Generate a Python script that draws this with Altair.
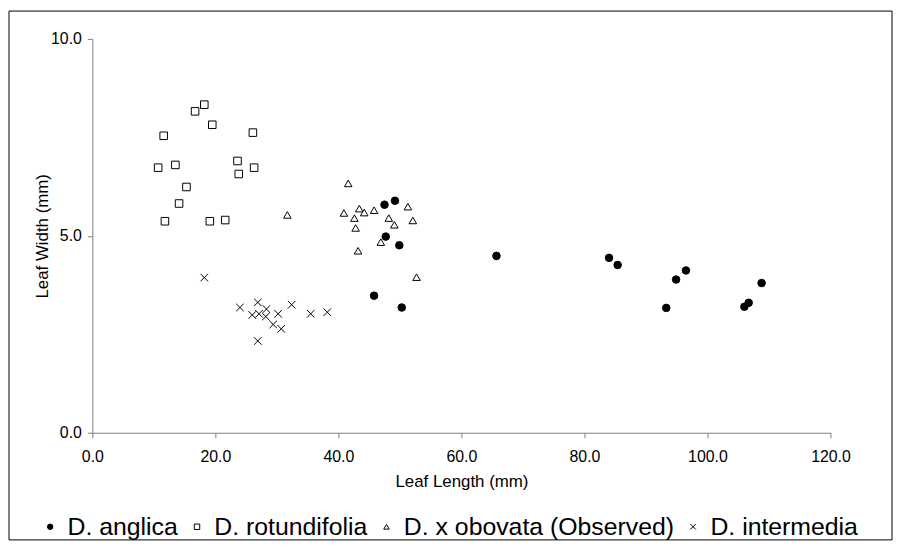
import altair as alt
import pandas as pd

series_names = ["D. anglica", "D. rotundifolia", "D. x obovata (Observed)", "D. intermedia"]

anglica_x = [47.5, 49.2, 47.7, 49.9, 65.7, 45.8, 50.3, 84.0, 85.4, 96.5, 94.9, 93.3, 108.8, 106.7, 106.0]
anglica_y = [5.79, 5.89, 4.98, 4.76, 4.49, 3.48, 3.18, 4.44, 4.26, 4.12, 3.89, 3.17, 3.80, 3.30, 3.20]

rotundifolia_x = [18.2, 16.7, 19.5, 11.6, 26.1, 23.6, 26.3, 23.8, 10.7, 13.5, 15.3, 14.1, 11.8, 19.1, 21.6]
rotundifolia_y = [8.33, 8.16, 7.82, 7.54, 7.62, 6.90, 6.73, 6.57, 6.73, 6.80, 6.24, 5.82, 5.37, 5.37, 5.40]

obovata_x = [41.6, 31.7, 40.9, 43.4, 42.6, 44.2, 45.8, 51.3, 48.2, 49.1, 52.1, 42.8, 46.9, 43.2, 52.7]
obovata_y = [6.33, 5.53, 5.58, 5.69, 5.45, 5.59, 5.65, 5.74, 5.45, 5.28, 5.39, 5.20, 4.84, 4.62, 3.95]

intermedia_x = [18.2, 24.0, 26.9, 26.0, 27.1, 28.2, 28.3, 30.2, 29.4, 30.7, 32.4, 35.5, 38.2, 26.9]
intermedia_y = [3.94, 3.18, 3.31, 2.99, 3.02, 2.95, 3.14, 3.02, 2.75, 2.64, 3.25, 3.02, 3.06, 2.33]

x_ticks = [0, 20, 40, 60, 80, 100, 120]
y_ticks = [0, 5, 10]

rows = []
for name, xs, ys in [
    (series_names[0], anglica_x, anglica_y),
    (series_names[1], rotundifolia_x, rotundifolia_y),
    (series_names[2], obovata_x, obovata_y),
    (series_names[3], intermedia_x, intermedia_y),
]:
    for x, y in zip(xs, ys):
        rows.append({"length": x, "width": y, "species": name})
df = pd.DataFrame(rows)

FONT = "Liberation Sans"
W, H = 744, 397

shape_range = ["circle", "square", "triangle-up", "M-1,-1L1,1M-1,1L1,-1"]
fill_range = ["black", "white", "white", "white"]
stroke_range = ["black", "black", "black", "black"]

legend_opts = dict(
    title=None, orient="none", legendX=-55, legendY=479,
    direction="horizontal", labelLimit=0, symbolSize=30,
    symbolStrokeWidth=1,
)

points = alt.Chart(df).mark_point(
    filled=False, strokeWidth=1, size=58, opacity=1
).encode(
    x=alt.X(
        "length:Q",
        scale=alt.Scale(domain=[0, 120], nice=False, zero=False),
        axis=alt.Axis(
            values=x_ticks, format=".1f", title="Leaf Length (mm)",
            titleY=49, titleBaseline="middle", labelPadding=11,
            labelFlush=False,
        ),
    ),
    y=alt.Y(
        "width:Q",
        scale=alt.Scale(domain=[0, 10], nice=False, zero=False),
        axis=alt.Axis(
            values=y_ticks, format=".1f", title="Leaf Width (mm)",
            titleX=-50, titleY=H / 2, titleAngle=-90, titleBaseline="middle",
            titleAlign="center", labelPadding=6, labelFlush=False,
        ),
    ),
    shape=alt.Shape(
        "species:N",
        scale=alt.Scale(domain=series_names, range=shape_range),
        legend=alt.Legend(**legend_opts),
    ),
    fill=alt.Fill(
        "species:N",
        scale=alt.Scale(domain=series_names, range=fill_range),
        legend=alt.Legend(**legend_opts),
    ),
    stroke=alt.Stroke(
        "species:N",
        scale=alt.Scale(domain=series_names, range=stroke_range),
        legend=alt.Legend(**legend_opts),
    ),
)

frame = alt.Chart(pd.DataFrame({"k": [0]})).mark_rect(
    fill=None, stroke="black", strokeWidth=1
).encode(
    x=alt.value(-84), x2=alt.value(806), y=alt.value(-28), y2=alt.value(505)
)

chart = alt.layer(frame, points).properties(
    width=W, height=H, padding=0
).configure_view(stroke=None).configure_axis(
    labelFont=FONT, titleFont=FONT, labelFontSize=16, titleFontSize=17,
    titleFontWeight="normal", labelColor="black", titleColor="black",
    domainColor="#7f7f7f", tickColor="#7f7f7f", tickSize=5, grid=False,
).configure_legend(
    labelFont=FONT, labelFontSize=25, labelColor="black",
    labelOffset=5, columnPadding=6, padding=0,
)

chart.save("out.html", embed_options={"renderer": "svg", "actions": False})
